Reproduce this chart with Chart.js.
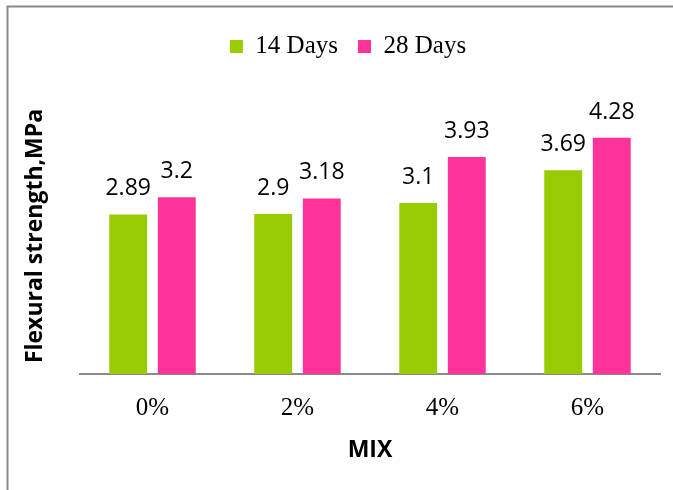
<!DOCTYPE html>
<html>
<head>
<meta charset="utf-8">
<script src="https://cdn.jsdelivr.net/npm/chart.js@4.4.1/dist/chart.umd.min.js"></script>
<style>
  html, body { margin: 0; padding: 0; background: #fff; }
  canvas { display: block; }
</style>
</head>
<body>
<canvas id="myChart" width="673" height="490"></canvas>
<script>
// Flexural strength (MPa) per mix
const mixes = ['0%', '2%', '4%', '6%'];
const days14 = [2.89, 2.9, 3.1, 3.69];
const days28 = [3.2, 3.18, 3.93, 4.28];
const seriesNames = ['14 Days', '28 Days'];

// Thin gray frame along the top and left edges
const framePlugin = {
  id: 'frame',
  beforeDraw(chart) {
    const ctx = chart.ctx;
    ctx.save();
    ctx.strokeStyle = '#8a8a8a';
    ctx.lineWidth = 2;
    ctx.beginPath();
    ctx.moveTo(673, 6.5);
    ctx.lineTo(7.5, 6.5);
    ctx.lineTo(7.5, 490);
    ctx.stroke();
    ctx.restore();
  }
};

// Extra room under the legend, and nudge it over the plot centre
const legendGap = {
  id: 'legendGap',
  beforeLayout(chart) {
    const legend = chart.legend;
    if (!legend || legend._gapPatched) return;
    const fit = legend.fit;
    legend.fit = function() {
      fit.call(this);
      this.height += 29;
    };
    legend._gapPatched = true;
  },
  afterLayout(chart) {
    chart.legend.left += 18;
    chart.legend.right += 18;
  }
};

// Value labels above each bar
const valueLabels = {
  id: 'valueLabels',
  afterDatasetsDraw(chart) {
    const ctx = chart.ctx;
    ctx.save();
    ctx.font = '23px "Open Sans"';
    ctx.fillStyle = '#000';
    ctx.textAlign = 'center';
    ctx.textBaseline = 'alphabetic';
    chart.data.datasets.forEach((ds, i) => {
      chart.getDatasetMeta(i).data.forEach((bar, j) => {
        ctx.fillText(String(ds.data[j]), bar.x, bar.y - 19);
      });
    });
    ctx.restore();
  }
};

const ctx = document.getElementById('myChart').getContext('2d');
new Chart(ctx, {
  type: 'bar',
  data: {
    labels: mixes,
    datasets: [{
      label: seriesNames[0],
      data: days14,
      backgroundColor: '#99CC00',
      borderWidth: 0,
      categoryPercentage: 0.67,
      barPercentage: 0.78
    },
    {
      label: seriesNames[1],
      data: days28,
      backgroundColor: '#FF3399',
      borderWidth: 0,
      categoryPercentage: 0.67,
      barPercentage: 0.78
    }]
  },
  options: {
    responsive: false,
    devicePixelRatio: 1,
    animation: false,
    layout: { padding: { left: 0, right: 13, top: 14, bottom: 0 } },
    plugins: {
      tooltip: { enabled: false },
      legend: {
        position: 'top',
        labels: {
          boxWidth: 13,
          boxHeight: 13,
          padding: 20,
          color: '#000',
          font: { family: '"Liberation Serif"', size: 25 }
        }
      }
    },
    scales: {
      x: {
        grid: { display: false, drawTicks: false },
        border: { display: true, color: '#8a8a8a', width: 2 },
        ticks: {
          color: '#000',
          padding: 19,
          font: { family: '"Liberation Serif"', size: 25 }
        },
        title: {
          display: true,
          text: 'MIX',
          color: '#000',
          padding: { top: 0, bottom: 26 },
          font: { family: '"Open Sans"', size: 23, weight: 'bold' }
        },
        afterFit(scale) { scale.height = 116; }
      },
      y: {
        min: 0,
        max: 5,
        grid: { display: false, drawTicks: false },
        border: { display: false },
        ticks: { display: false },
        title: {
          display: true,
          text: 'Flexural strength,MPa',
          color: '#000',
          padding: { top: 22, bottom: 0 },
          font: { family: '"Open Sans"', size: 23, weight: 'bold' }
        },
        afterFit(scale) { scale.width = 80; }
      }
    }
  },
  plugins: [framePlugin, legendGap, valueLabels]
});
</script>
</body>
</html>
